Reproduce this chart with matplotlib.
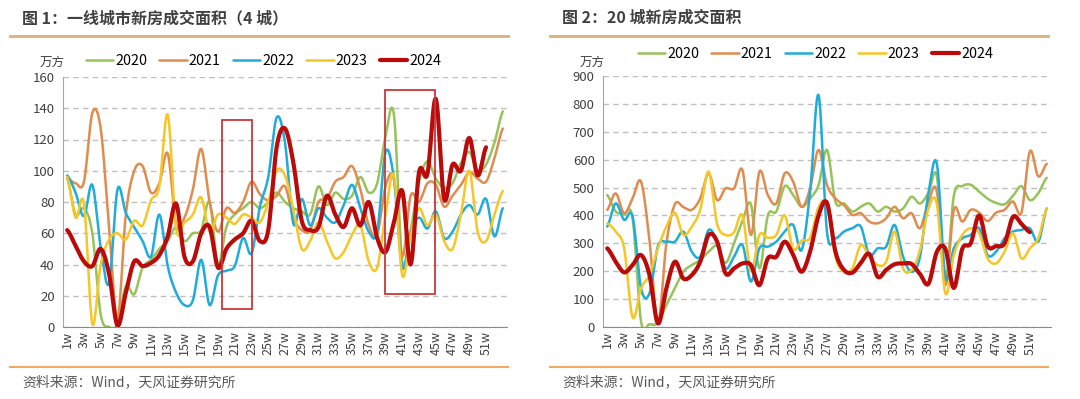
import numpy as np
import matplotlib
matplotlib.use("Agg")
import matplotlib.pyplot as plt
from matplotlib.lines import Line2D
from matplotlib.patches import Rectangle

plt.rcParams["font.family"] = ["Noto Sans CJK SC", "DejaVu Sans"]

# == DATOS ==
years = ["2020", "2021", "2022", "2023", "2024"]
colors = ["#96C35A", "#E08C4E", "#1FACDB", "#F6C626", "#BA0A0A"]
widths = [1.8, 1.8, 1.8, 1.8, 3.0]
week_labels = [f"{w}w" for w in range(1, 54)]

# Figura 1: 一线城市 (4 城)
tier1_2020 = [95, 72, 76, 60, 8, 0, 2, 26, 21, 38, 43, 50, 55, 64, 55, 60, 62, 80, 40, 64,
              72, 76, 80, 76, 80, 86, 80, 76, 74, 72, 90, 78, 86, 82, 84, 96, 86, 92, 122, 136,
              42, 62, 93, 106, 95, 89, 92, 105, 112, 100, 104, 118, 138]
tier1_2021 = [95, 92, 93, 137, 127, 64, 5, 72, 100, 103, 86, 92, 111, 66, 70, 88, 114, 80, 61, 76,
              73, 80, 93, 85, 81, 84, 90, 70, 62, 62, 80, 82, 93, 96, 103, 88, 65, 59, 90, 95,
              45, 84, 80, 92, 91, 77, 84, 91, 99, 95, 93, 108, 127]
tier1_2022 = [97, 86, 71, 91, 51, 28, 88, 73, 64, 55, 45, 72, 39, 22, 14, 17, 43, 14, 33, 36,
              39, 57, 47, 77, 96, 134, 118, 66, 82, 65, 76, 70, 67, 78, 91, 76, 61, 61, 112, 95,
              38, 61, 70, 63, 74, 57, 61, 72, 78, 72, 82, 58, 76]
tier1_2023 = [96, 70, 79, 2, 40, 56, 60, 56, 68, 65, 81, 90, 136, 63, 67, 72, 83, 61, 72, 70,
              66, 72, 70, 67, 80, 100, 97, 75, 50, 55, 67, 55, 44, 48, 59, 65, 42, 38, 72, 97,
              33, 59, 76, 65, 72, 55, 50, 72, 100, 61, 55, 72, 87]
tier1_2024 = [62, 52, 42, 39, 50, 34, 1, 22, 42, 39, 41, 46, 58, 79, 45, 42, 60, 64, 38, 50,
              56, 60, 68, 55, 62, 115, 127, 105, 68, 62, 64, 84, 72, 64, 76, 65, 80, 57, 48, 67,
              87, 40, 99, 98, 146, 82, 104, 100, 121, 97, 115]

# Figura 2: 20 城
c20_2020 = [473, 414, 405, 390, 20, 10, 15, 79, 139, 198, 222, 240, 270, 290, 230, 300, 380, 440, 210, 400,
            414, 505, 473, 431, 461, 509, 635, 449, 443, 414, 431, 443, 414, 431, 414, 425, 467, 443, 480, 540,
            170, 470, 505, 510, 485, 460, 445, 440, 470, 505, 455, 480, 535]
c20_2021 = [420, 479, 408, 461, 521, 310, 15, 300, 440, 430, 420, 461, 550, 455, 497, 497, 563, 330, 557, 473,
            443, 551, 521, 431, 497, 635, 509, 461, 437, 402, 408, 378, 372, 390, 431, 390, 408, 354, 449, 485,
            150, 420, 378, 420, 410, 380, 410, 420, 450, 410, 630, 540, 585]
c20_2022 = [360, 443, 384, 396, 139, 121, 290, 306, 306, 342, 270, 252, 348, 306, 210, 252, 294, 163, 282, 288,
            306, 342, 366, 276, 485, 832, 340, 318, 342, 354, 360, 258, 282, 288, 366, 252, 198, 252, 480, 585,
            180, 282, 318, 330, 354, 258, 270, 318, 342, 348, 354, 306, 425]
c20_2023 = [372, 342, 282, 35, 139, 186, 282, 360, 410, 330, 360, 420, 557, 370, 330, 340, 400, 200, 330, 320,
            330, 400, 280, 310, 320, 430, 440, 252, 198, 210, 294, 252, 222, 234, 342, 210, 204, 276, 425, 440,
            121, 258, 330, 354, 336, 246, 228, 270, 336, 246, 282, 318, 425]
c20_2024 = [282, 234, 196, 222, 258, 186, 13, 139, 234, 174, 186, 234, 330, 306, 192, 210, 228, 222, 150, 246,
            252, 306, 258, 198, 270, 400, 445, 270, 205, 195, 230, 262, 180, 205, 225, 228, 226, 190, 155, 270,
            280, 140, 280, 300, 400, 290, 290, 300, 395, 370, 340]

tier1 = [tier1_2020, tier1_2021, tier1_2022, tier1_2023, tier1_2024]
c20 = [c20_2020, c20_2021, c20_2022, c20_2023, c20_2024]


def smooth(vals, n=12):
    # linea suavizada tipo Excel (Catmull-Rom)
    y = np.asarray(vals, float)
    p = np.concatenate([[y[0]], y, [y[-1]]])
    t = np.linspace(0, 1, n, endpoint=False)[:, None]
    p0, p1, p2, p3 = p[:-3], p[1:-2], p[2:-1], p[3:]
    ys = 0.5 * (2 * p1 + (-p0 + p2) * t + (2 * p0 - 5 * p1 + 4 * p2 - p3) * t ** 2
                + (-p0 + 3 * p1 - 3 * p2 + p3) * t ** 3)
    xs = np.arange(len(y) - 1) + t
    return np.append(xs.T.ravel(), len(y) - 1), np.append(ys.T.ravel(), y[-1])


W, H = 1080, 399
fig = plt.figure(figsize=(W / 100, H / 100), dpi=100)


def px(x0, y0, w, h):
    return [x0 / W, 1 - (y0 + h) / H, w / W, h / H]


def draw_panel(rect, data, ymax, ystep, title, tx, legend_xy, unit_xy, line_x):
    ax = fig.add_axes(rect)
    for vals, c, lw, lab in zip(data, colors, widths, years):
        xs, ys = smooth(vals)
        ax.plot(xs, ys, color=c, lw=lw, label=lab, solid_capstyle="round")
    ax.set_xlim(-0.5, 52.5)
    ax.set_ylim(0, ymax)
    ax.set_yticks(np.arange(0, ymax + 1, ystep))
    ax.yaxis.grid(True, color="#BFBFBF", ls=(0, (4, 3)), lw=1)
    ax.set_axisbelow(True)
    ax.set_xticks(np.arange(0, 51, 2))
    ax.set_xticklabels(week_labels[0:51:2], rotation=90, fontsize=9, color="#404040")
    ax.tick_params(axis="y", length=0, labelsize=9.5, labelcolor="#404040", pad=6)
    ax.tick_params(axis="x", length=0, pad=3)
    for s in ["top", "right"]:
        ax.spines[s].set_visible(False)
    ax.spines["left"].set_color("#A6A6A6")
    ax.spines["bottom"].set_color("#8C8C8C")
    ax.legend(loc="center left", bbox_to_anchor=legend_xy, bbox_transform=fig.transFigure,
              ncol=5, frameon=False, fontsize=10.3, handlelength=1.9, handletextpad=0.15,
              columnspacing=0.85, borderpad=0, borderaxespad=0)
    fig.text(unit_xy[0] / W, 1 - unit_xy[1] / H, "万方", fontsize=9, color="#404040",
             ha="left", va="center")
    fig.text(tx / W, 1 - 18 / H, title, fontsize=11.5, weight="bold", color="#404040",
             ha="left", va="center")
    fig.text(tx / W, 1 - 382 / H, "资料来源：Wind，天风证券研究所", fontsize=10,
             color="#595959", ha="left", va="center")
    fig.add_artist(Line2D([line_x[0] / W, line_x[1] / W], [1 - 36 / H] * 2, color="#D9B07A", lw=2))
    fig.add_artist(Line2D([line_x[0] / W, line_x[1] / W], [1 - 367 / H] * 2, color="#F0AA62", lw=1.5))
    return ax


ax1 = draw_panel(px(63, 77, 444, 250), tier1, 160, 20, "图 1：一线城市新房成交面积（4 城）",
                 22, (86 / W, 1 - 61 / H), (40, 62), (10, 508))
ax2 = draw_panel(px(603, 76, 448, 251), c20, 900, 100, "图 2：20 城新房成交面积",
                 562, (638 / W, 1 - 54 / H), (580, 62), (550, 1048))

# Recuadros rojos
for x0, x1, y0, y1 in [(18.5, 22.1, 11.5, 132.5), (37.9, 43.85, 21, 152)]:
    ax1.add_patch(Rectangle((x0, y0), x1 - x0, y1 - y0, fill=False, edgecolor="#C8373A",
                            lw=1.3, clip_on=False, zorder=5))

fig.savefig("out.png", dpi=100)
